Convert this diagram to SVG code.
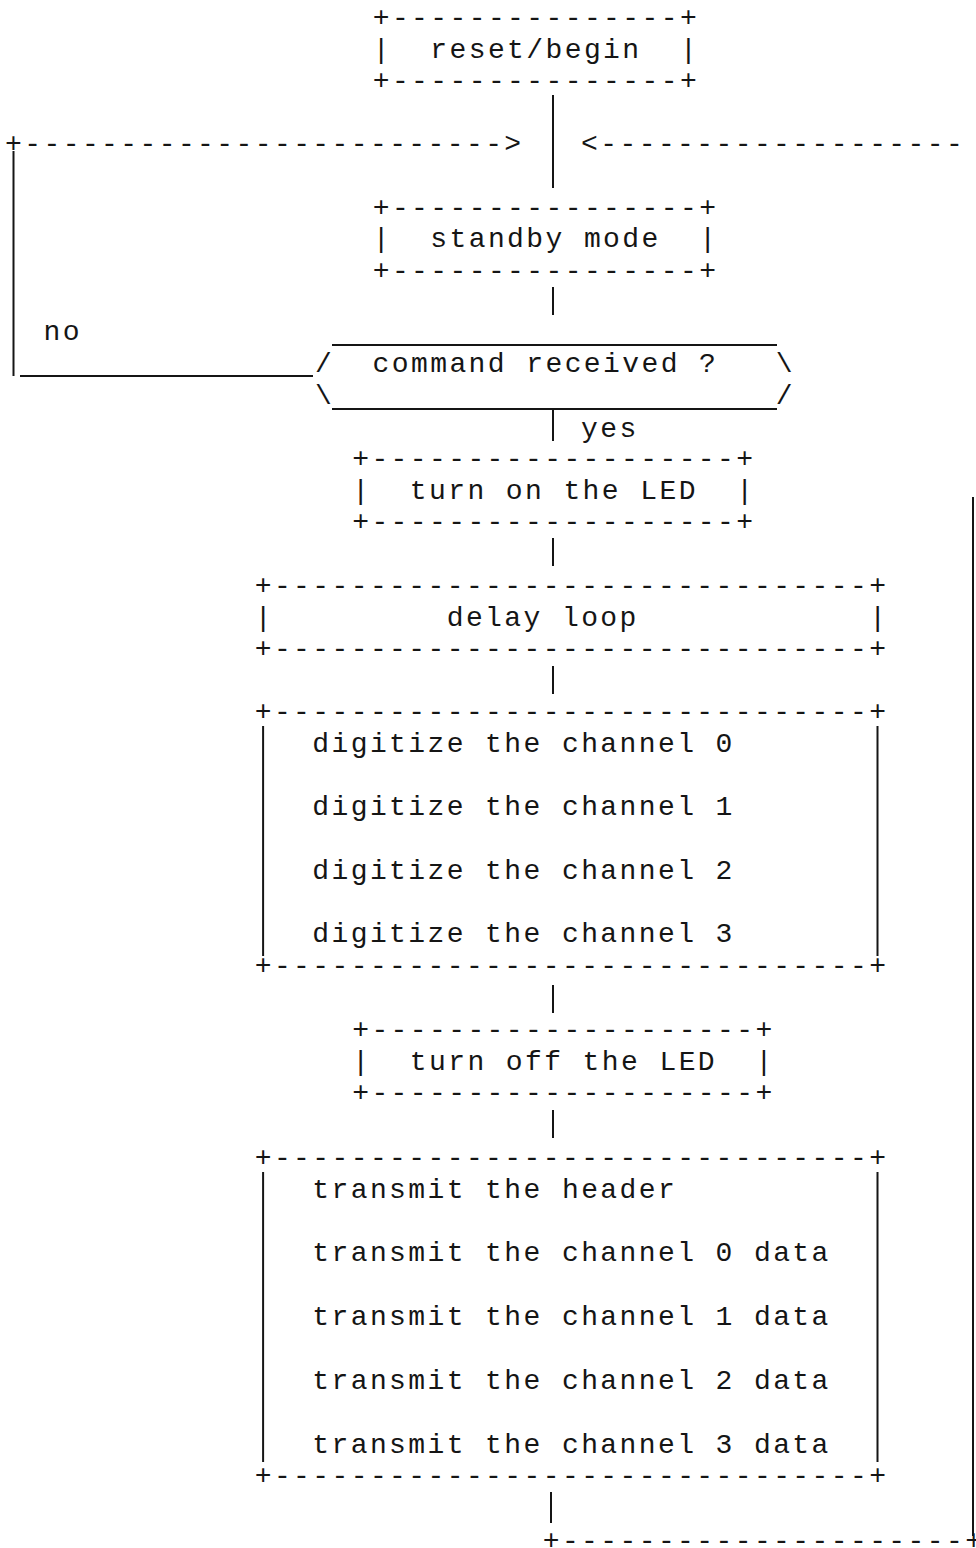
<svg xmlns="http://www.w3.org/2000/svg" width="976" height="1548" viewBox="0 0 976 1548">
<style>
.t{font-family:"Liberation Mono","Courier New",monospace;font-size:28px;letter-spacing:2.4px;fill:#151515;white-space:pre}
.ln{stroke:#151515;stroke-width:2;fill:none}
</style>
<rect x="0" y="0" width="976" height="1548" fill="#ffffff"/>
<g id="connectors">
<line class="ln" x1="553" y1="95" x2="553" y2="188"/>
<text class="t" x="5.1" y="152">+-------------------------&gt;</text>
<text class="t" x="581.1" y="152">&lt;-------------------</text>
<line class="ln" x1="13.5" y1="151" x2="13.5" y2="376"/>
<line class="ln" x1="20" y1="376" x2="313" y2="376"/>
<text class="t" x="43.5" y="340">no</text>
<line class="ln" x1="553" y1="287" x2="553" y2="315"/>
<line class="ln" x1="553" y1="410" x2="553" y2="441"/>
<text class="t" x="581.1" y="437">yes</text>
<line class="ln" x1="553" y1="538" x2="553" y2="566"/>
<line class="ln" x1="553" y1="666" x2="553" y2="694"/>
<line class="ln" x1="553" y1="985" x2="553" y2="1013"/>
<line class="ln" x1="553" y1="1110" x2="553" y2="1138"/>
<line class="ln" x1="551" y1="1492" x2="551" y2="1523"/>
<text class="t" x="542.7" y="1549">+---------------------+</text>
<line class="ln" x1="973" y1="497" x2="973" y2="1536"/>
</g>
<g id="reset">
<text class="t" x="372.7" y="26">+---------------+</text>
<text class="t" x="372.7" y="58">|  reset/begin  |</text>
<text class="t" x="372.7" y="89">+---------------+</text>
</g>
<g id="standby">
<text class="t" x="372.7" y="216">+----------------+</text>
<text class="t" x="372.7" y="247">|  standby mode  |</text>
<text class="t" x="372.7" y="279">+----------------+</text>
</g>
<g id="decision">
<line class="ln" x1="332" y1="345" x2="777" y2="345"/>
<text class="t" x="315" y="372">/  command received ?   \</text>
<text class="t" x="315" y="404">\                       /</text>
<line class="ln" x1="332" y1="409" x2="777" y2="409"/>
</g>
<g id="led-on">
<text class="t" x="352.2" y="467">+-------------------+</text>
<text class="t" x="352.2" y="499">|  turn on the LED  |</text>
<text class="t" x="352.2" y="530">+-------------------+</text>
</g>
<g id="delay">
<text class="t" x="254.7" y="594">+-------------------------------+</text>
<text class="t" x="254.7" y="626">|         delay loop            |</text>
<text class="t" x="254.7" y="657">+-------------------------------+</text>
</g>
<g id="digitize">
<text class="t" x="254.7" y="720">+-------------------------------+</text>
<line class="ln" x1="263.1" y1="726" x2="263.1" y2="956"/>
<text class="t" x="312.3" y="752">digitize the channel 0</text>
<text class="t" x="312.3" y="815">digitize the channel 1</text>
<text class="t" x="312.3" y="879">digitize the channel 2</text>
<text class="t" x="312.3" y="942">digitize the channel 3</text>
<line class="ln" x1="877.5" y1="726" x2="877.5" y2="956"/>
<text class="t" x="254.7" y="974">+-------------------------------+</text>
</g>
<g id="led-off">
<text class="t" x="352.2" y="1038">+--------------------+</text>
<text class="t" x="352.2" y="1070">|  turn off the LED  |</text>
<text class="t" x="352.2" y="1101">+--------------------+</text>
</g>
<g id="transmit">
<text class="t" x="254.7" y="1166">+-------------------------------+</text>
<line class="ln" x1="263.1" y1="1172" x2="263.1" y2="1462"/>
<text class="t" x="312.3" y="1198">transmit the header</text>
<text class="t" x="312.3" y="1261">transmit the channel 0 data</text>
<text class="t" x="312.3" y="1325">transmit the channel 1 data</text>
<text class="t" x="312.3" y="1389">transmit the channel 2 data</text>
<text class="t" x="312.3" y="1453">transmit the channel 3 data</text>
<line class="ln" x1="877.5" y1="1172" x2="877.5" y2="1462"/>
<text class="t" x="254.7" y="1484">+-------------------------------+</text>
</g>
</svg>
